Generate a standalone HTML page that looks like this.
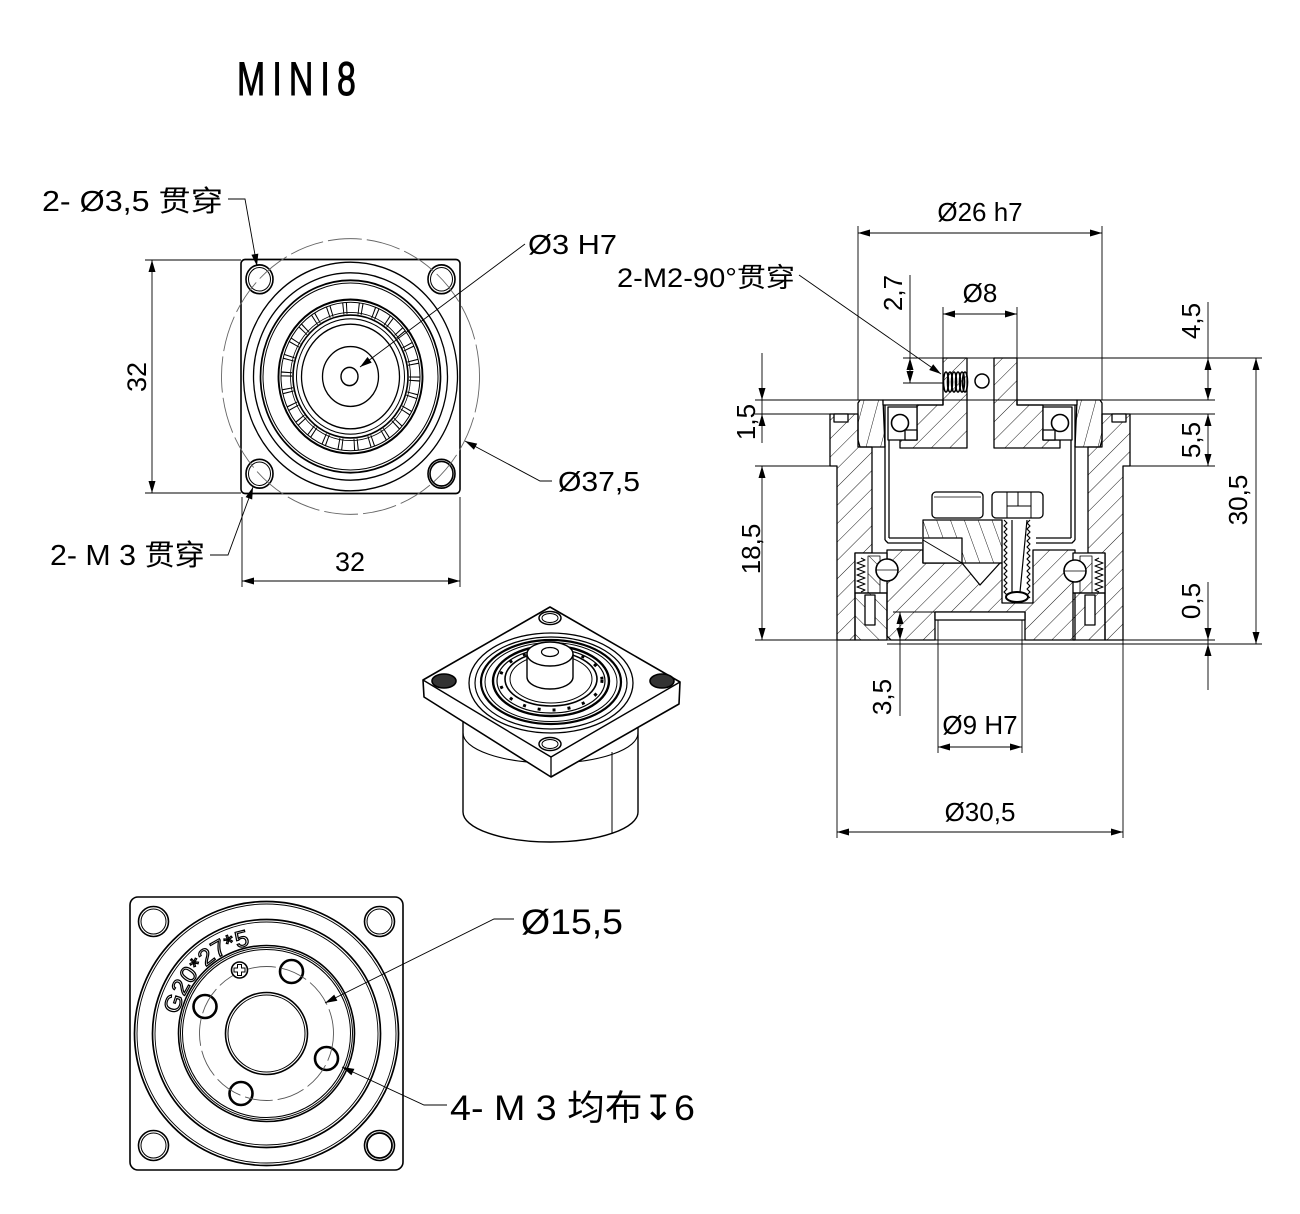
<!DOCTYPE html>
<html><head><meta charset="utf-8">
<style>
html,body{margin:0;padding:0;background:#fff;}
svg{display:block;}
text{font-family:"Liberation Sans","Noto Sans CJK SC","DejaVu Sans",sans-serif;fill:#000;}
</style></head><body>
<svg width="1300" height="1214" viewBox="0 0 1300 1214" xmlns="http://www.w3.org/2000/svg">
<defs>
<pattern id="hA" width="13" height="13" patternUnits="userSpaceOnUse" patternTransform="rotate(45)"><line x1="0" y1="0" x2="0" y2="13" stroke="#000" stroke-width="0.9"/></pattern>
<pattern id="hB" width="13" height="13" patternUnits="userSpaceOnUse" patternTransform="rotate(-45)"><line x1="0" y1="0" x2="0" y2="13" stroke="#000" stroke-width="0.9"/></pattern>
<pattern id="hC" width="14" height="14" patternUnits="userSpaceOnUse" patternTransform="rotate(15)"><line x1="0" y1="0" x2="0" y2="14" stroke="#000" stroke-width="0.9"/></pattern>
<pattern id="hD" width="13" height="13" patternUnits="userSpaceOnUse" patternTransform="rotate(-20)"><line x1="0" y1="0" x2="0" y2="13" stroke="#000" stroke-width="0.9"/></pattern>
<path id="arcT" d="M178.5,1014.8 A90,90 0 0 1 263.4,943.6" fill="none"/>
</defs>
<rect width="1300" height="1214" fill="#fff"/>

<!-- Title -->
<text transform="translate(237,95) scale(0.72,1)" font-size="47" textLength="165" lengthAdjust="spacing" style="stroke:#000;stroke-width:1">MINI8</text>

<!-- ============ TOP-LEFT VIEW ============ -->
<g transform="translate(350.5,376.5) scale(1,1.0685)" fill="none" stroke="#000">
  <rect x="-109.5" y="-109.5" width="219" height="219" rx="4" stroke-width="1.6"/>
  <circle r="107" stroke-width="1.3"/>
  <circle r="97" stroke-width="1.3"/>
  <circle r="90" stroke-width="1.7"/>
  <circle r="87.5" stroke-width="1"/>
  <circle r="72" stroke-width="1.9"/>
  <circle r="69.5" stroke-width="1"/>
  <circle r="64" stroke-width="11" stroke-dasharray="1 2.4 1 11.06"/>
  <circle r="60" stroke-width="0.8"/>
  <circle r="57.5" stroke-width="1.6"/>
  <circle r="54" stroke-width="1"/>
  <circle r="49" stroke-width="1.3"/>
  <circle r="28" stroke-width="1.3"/>
  <circle cx="-1" cy="0" r="8.5" stroke-width="1.4"/>
  <g stroke-width="1.6">
    <circle cx="-91" cy="-91" r="13.5"/><circle cx="91" cy="-91" r="13.5"/>
    <circle cx="-91" cy="91" r="13.5"/><circle cx="91" cy="91" r="13.5"/>
  </g>
  <g stroke-width="1">
    <circle cx="-91" cy="-91" r="11"/><circle cx="91" cy="-91" r="11"/>
    <circle cx="-91" cy="91" r="11"/><circle cx="91" cy="91" r="11.5" stroke-width="1.6"/>
  </g>
  <circle r="129" stroke="#666" stroke-width="0.9" stroke-dasharray="34 5"/>
</g>

<!-- TL dims -->
<g stroke="#000" stroke-width="0.9" fill="none">
  <line x1="145" y1="260" x2="241" y2="260"/>
  <line x1="145" y1="493" x2="241" y2="493"/>
  <line x1="152" y1="260" x2="152" y2="493"/>
  <line x1="242" y1="497" x2="242" y2="587"/>
  <line x1="460" y1="497" x2="460" y2="587"/>
  <line x1="242" y1="581" x2="460" y2="581"/>
  <polyline points="228,199 245,199 257,266"/>
  <line x1="525" y1="244" x2="360" y2="367"/>
  <polyline points="552,481 540,481 465,441"/>
  <polyline points="210,555 228,555 253,487"/>
</g>
<g fill="#000">
  <polygon points="152,260 148.5,272 155.5,272"/>
  <polygon points="152,493 148.5,481 155.5,481"/>
  <polygon points="242,581 254,577.5 254,584.5"/>
  <polygon points="460,581 448,577.5 448,584.5"/>
  <polygon points="257,266 251.4,254.8 258.3,253.6"/>
  <polygon points="360,367 367.5,357 371.7,362.6"/>
  <polygon points="465,441 477.2,443.6 473.9,449.7"/>
  <polygon points="253,487 252.2,499.5 245.6,497.1"/>
</g>
<text x="42" y="211" font-size="29" textLength="181" lengthAdjust="spacingAndGlyphs">2- Ø3,5 贯穿</text>
<text x="528" y="254" font-size="28" textLength="89" lengthAdjust="spacingAndGlyphs">Ø3 H7</text>
<text x="558" y="491" font-size="28" textLength="82" lengthAdjust="spacingAndGlyphs">Ø37,5</text>
<text x="50" y="565" font-size="29" textLength="155" lengthAdjust="spacingAndGlyphs">2- M 3 贯穿</text>
<text x="350" y="571" font-size="27" text-anchor="middle">32</text>
<text transform="translate(146,377) rotate(-90)" font-size="27" text-anchor="middle">32</text>

<!-- ============ ISO VIEW ============ -->
<g stroke="#000" stroke-linejoin="round">
  <path d="M463,720 L463,812 A87.5,30 0 0 0 638,812 L638,720 Z" fill="#fff" stroke-width="1.4"/>
  <path d="M463,733 A87.5,30 0 0 0 638,733" fill="none" stroke-width="1.1"/>
  <line x1="612" y1="752" x2="612" y2="834" stroke-width="1"/>
  <path d="M423,680 L550,607 L680,682 L679,704 L551,777 L424,697 Z" fill="#fff" stroke-width="1.6"/>
  <polyline points="423,680 551,757 680,682" fill="none" stroke-width="1.4"/>
  <line x1="551" y1="757" x2="551" y2="777" stroke-width="1.3"/>
  <g fill="none">
    <ellipse cx="551" cy="683" rx="82" ry="50" stroke-width="1.3"/>
    <ellipse cx="551" cy="683" rx="76" ry="46" stroke-width="1.2"/>
    <ellipse cx="551" cy="682" rx="70" ry="42" stroke-width="2.2"/>
    <ellipse cx="551" cy="682" rx="66" ry="39.5" stroke-width="1"/>
    <ellipse cx="551" cy="681" rx="58" ry="35" stroke-width="2.4"/>
    <ellipse cx="551" cy="681" rx="54" ry="32" stroke-width="1.2"/>
    <ellipse cx="551" cy="680" rx="51" ry="30" stroke-width="3" stroke-dasharray="3 12"/>
    <ellipse cx="551" cy="679" rx="46" ry="27" stroke-width="1.6"/>
    <ellipse cx="551" cy="679" rx="41" ry="24" stroke-width="1"/>
  </g>
  <path d="M527,654 L527,677 A23,12 0 0 0 573,677 L573,654 Z" fill="#fff" stroke-width="1.4"/>
  <ellipse cx="550" cy="654" rx="23" ry="12" fill="#fff" stroke-width="1.4"/>
  <ellipse cx="550" cy="652" rx="8.5" ry="4.5" fill="#fff" stroke-width="1.2"/>
  <ellipse cx="550" cy="618" rx="11" ry="6.5" fill="#fff" stroke-width="1.5"/>
  <ellipse cx="550" cy="618" rx="8" ry="4.5" fill="none" stroke-width="1"/>
  <ellipse cx="550" cy="744" rx="11" ry="6.5" fill="#fff" stroke-width="1.5"/>
  <ellipse cx="550" cy="744" rx="8" ry="4.5" fill="none" stroke-width="1"/>
  <ellipse cx="444" cy="681" rx="12" ry="7" fill="#333" stroke-width="1.6"/>
  <ellipse cx="662" cy="681" rx="12" ry="7" fill="#333" stroke-width="1.6"/>
</g>

<!-- ============ BOTTOM VIEW ============ -->
<g transform="translate(266.5,1033.5)" fill="none" stroke="#000">
  <rect x="-136.5" y="-136.5" width="273" height="273" rx="8" stroke-width="1.6"/>
  <circle r="132" stroke-width="1.7"/>
  <circle r="129.5" stroke-width="0.9"/>
  <circle r="114" stroke-width="1.7"/>
  <circle r="111.5" stroke-width="0.9"/>
  <circle r="88" stroke-width="1.6"/>
  <circle r="86" stroke-width="1"/>
  <circle r="84" stroke-width="1"/>
  <circle r="41" stroke-width="1.6"/>
  <circle r="38.5" stroke-width="1"/>
  <g stroke-width="1.6">
    <circle cx="-113" cy="-112" r="15"/><circle cx="113" cy="-112" r="15"/>
    <circle cx="-113" cy="112" r="15"/><circle cx="113" cy="112" r="15"/>
  </g>
  <g stroke-width="1">
    <circle cx="-113" cy="-112" r="12.5"/><circle cx="113" cy="-112" r="12.5"/>
    <circle cx="-113" cy="112" r="12.5"/><circle cx="113" cy="112" r="12.5" stroke-width="1.8"/>
  </g>
  <g fill="#fff" stroke-width="2.6">
    <circle cx="25" cy="-62" r="11.5"/>
    <circle cx="-61.5" cy="-27" r="11.5"/>
    <circle cx="60" cy="25" r="11.5"/>
    <circle cx="-25.5" cy="60" r="11.5"/>
  </g>
  <circle r="67" stroke="#555" stroke-width="0.9" stroke-dasharray="28 5"/>
  <circle cx="-27" cy="-63.5" r="8" fill="#fff" stroke-width="1.6"/>
  <path d="M-29,-69 h4 v3.5 h3.5 v4 h-3.5 v3.5 h-4 v-3.5 h-3.5 v-4 h3.5 Z" stroke-width="1"/>
</g>
<text font-size="23" style="fill:none;stroke:#000;stroke-width:1.2"><textPath href="#arcT" textLength="106" lengthAdjust="spacingAndGlyphs">G20*27*5</textPath></text>

<g stroke="#000" stroke-width="0.9" fill="none">
  <polyline points="514,919 494,919 325,1003"/>
  <polyline points="447,1105 424,1105 342,1067"/>
</g>
<g fill="#000">
  <polygon points="325,1003 334.2,994.6 337.4,1000.8"/>
  <polygon points="342,1067 354.4,1068.9 351.4,1075.2"/>
</g>
<text x="521" y="934" font-size="35" textLength="102" lengthAdjust="spacingAndGlyphs">Ø15,5</text>
<text x="450" y="1120" font-size="35" textLength="245" lengthAdjust="spacingAndGlyphs">4- M 3 均布↧6</text>

<!-- ============ SECTION VIEW ============ -->
<g stroke="#000" stroke-width="1.3" stroke-linejoin="round">
  <path d="M830,414 L858,414 L858,447 L872,447 L872,553 L855,553 L855,640 L837,640 L837,466 L830,466 Z" fill="url(#hA)"/>
  <path d="M1130,414 L1102,414 L1102,447 L1088,447 L1088,553 L1105,553 L1105,640 L1123,640 L1123,466 L1130,466 Z" fill="url(#hA)"/>
  <rect x="834" y="414" width="14" height="8" fill="#fff"/>
  <rect x="1112" y="414" width="14" height="8" fill="#fff"/>
  <path d="M860,400 L883,400 L885,447 L860,447 L858,440 L858,403 Z" fill="url(#hC)"/>
  <path d="M1077,400 L1100,400 L1102,403 L1102,440 L1100,447 L1075,447 Z" fill="url(#hC)"/>
  <rect x="883" y="400" width="60" height="5" fill="#fff"/>
  <rect x="1017" y="400" width="60" height="5" fill="#fff"/>
  <path d="M943,358 L967,358 L967,448 L900,448 L900,440 L917,440 L917,405 L943,405 Z" fill="url(#hA)"/>
  <path d="M1017,358 L994,358 L994,448 L1060,448 L1060,440 L1043,440 L1043,405 L1017,405 Z" fill="url(#hA)"/>
  <rect x="888" y="407" width="29" height="33" fill="#fff"/>
  <circle cx="900" cy="423" r="8.5" fill="#fff" stroke-width="1.6"/>
  <rect x="905" y="430" width="12" height="10" fill="#fff"/>
  <rect x="1043" y="407" width="29" height="33" fill="#fff"/>
  <circle cx="1060" cy="423" r="8.5" fill="#fff" stroke-width="1.6"/>
  <rect x="1043" y="430" width="12" height="10" fill="#fff"/>
  <g fill="none">
    <line x1="885" y1="405" x2="885" y2="540"/>
    <line x1="889" y1="440" x2="889" y2="538"/>
    <path d="M885,540 L888,543 L922,543"/>
    <line x1="889" y1="538" x2="922" y2="538"/>
    <line x1="1075" y1="405" x2="1075" y2="540"/>
    <line x1="1071" y1="440" x2="1071" y2="538"/>
    <path d="M1075,540 L1072,543 L1036,543"/>
    <line x1="1071" y1="538" x2="1036" y2="538"/>
  </g>
  <g fill="none" stroke-width="1.6">
    <ellipse cx="946" cy="382" rx="2.5" ry="10"/>
    <ellipse cx="950" cy="382" rx="2.5" ry="10"/>
    <ellipse cx="954" cy="382" rx="2.5" ry="10"/>
    <ellipse cx="958" cy="382" rx="2.5" ry="10"/>
    <ellipse cx="962" cy="382" rx="2.5" ry="10"/>
    <ellipse cx="965" cy="382" rx="2.5" ry="10"/>
  </g>
  <circle cx="982" cy="381" r="7" fill="#fff" stroke-width="1.5"/>
  <path d="M887,550 L923,550 L923,563 L962,563 L980,585 L1000,563 L1002,563 L1002,603 L1033,603 L1033,550 L1075,550 L1075,640 L1025,640 L1025,612 L935,612 L935,640 L891,640 L887,636 Z" fill="url(#hA)"/>
  <rect x="935" y="612" width="90" height="8" fill="#fff"/>
  <rect x="923" y="520" width="79" height="43" fill="url(#hD)"/>
  <rect x="923" y="538" width="39" height="25" fill="#fff"/>
  <line x1="923" y1="540" x2="962" y2="563" stroke-width="1"/>
  <rect x="932" y="492" width="51" height="26" rx="4" fill="#fff"/>
  <line x1="934" y1="497" x2="981" y2="497" stroke-width="0.8"/>
  <rect x="992" y="492" width="51" height="26" rx="4" fill="#fff"/>
  <g fill="none" stroke-width="1">
    <line x1="1007" y1="492" x2="1007" y2="518"/>
    <line x1="1031" y1="492" x2="1031" y2="518"/>
    <line x1="1018" y1="492" x2="1018" y2="506"/>
    <line x1="1007" y1="506" x2="1031" y2="506"/>
  </g>
  <rect x="1003" y="520" width="28" height="78" fill="#fff" stroke="none"/>
  <g fill="none" stroke-width="1.2">
    <path d="M1004,520 l3,3 l-3,3 l3,3 l-3,3 l3,3 l-3,3 l3,3 l-3,3 l3,3 l-3,3 l3,3 l-3,3 l3,3 l-3,3 l3,3 l-3,3 l3,3 l-3,3 l3,3 l-3,3 l3,3 l-3,3 l3,3 l-3,3 l3,3"/>
    <path d="M1030,520 l-3,3 l3,3 l-3,3 l3,3 l-3,3 l3,3 l-3,3 l3,3 l-3,3 l3,3 l-3,3 l3,3 l-3,3 l3,3 l-3,3 l3,3 l-3,3 l3,3 l-3,3 l3,3 l-3,3 l3,3 l-3,3 l3,3 l-3,3 l3,3"/>
    <line x1="1012" y1="520" x2="1012" y2="592"/>
    <line x1="1027" y1="520" x2="1020" y2="592"/>
  </g>
  <ellipse cx="1017" cy="597" rx="11" ry="5" fill="#fff" stroke-width="2"/>
  <rect x="855" y="553" width="32" height="40" fill="#fff"/>
  <rect x="868" y="556" width="12" height="37" fill="url(#hB)" stroke-width="0.8"/>
  <rect x="1073" y="553" width="32" height="40" fill="#fff"/>
  <rect x="1080" y="556" width="12" height="37" fill="url(#hA)" stroke-width="0.8"/>
  <g fill="none" stroke-width="1.1">
    <path d="M861,558 l4,2 l-8,3 l8,3 l-8,3 l8,3 l-8,3 l8,3 l-8,3 l8,3 l-8,3 l8,3 l-4,2"/>
    <path d="M1099,558 l-4,2 l8,3 l-8,3 l8,3 l-8,3 l8,3 l-8,3 l8,3 l-8,3 l8,3 l-8,3 l4,2"/>
  </g>
  <circle cx="887" cy="570" r="11" fill="#fff" stroke-width="1.6"/>
  <line x1="876" y1="570" x2="898" y2="570" stroke-width="0.8"/>
  <circle cx="1075" cy="571" r="11" fill="#fff" stroke-width="1.6"/>
  <line x1="1064" y1="571" x2="1086" y2="571" stroke-width="0.8"/>
  <rect x="855" y="593" width="32" height="47" fill="url(#hB)"/>
  <rect x="865" y="595" width="10" height="30" fill="#fff"/>
  <rect x="1073" y="593" width="32" height="47" fill="url(#hA)"/>
  <rect x="1085" y="595" width="10" height="30" fill="#fff"/>
</g>

<g stroke="#000" stroke-width="0.9" fill="none">
  <line x1="858" y1="226" x2="858" y2="400"/>
  <line x1="1102" y1="226" x2="1102" y2="400"/>
  <line x1="858" y1="233" x2="1102" y2="233"/>
  <line x1="943" y1="307" x2="943" y2="358"/>
  <line x1="1017" y1="307" x2="1017" y2="358"/>
  <line x1="943" y1="314" x2="1017" y2="314"/>
  <line x1="903" y1="358" x2="1262" y2="358"/>
  <line x1="903" y1="383" x2="943" y2="383"/>
  <line x1="910" y1="275" x2="910" y2="383"/>
  <line x1="755" y1="400" x2="1215" y2="400"/>
  <line x1="755" y1="414" x2="830" y2="414"/>
  <line x1="1130" y1="414" x2="1215" y2="414"/>
  <line x1="755" y1="466" x2="837" y2="466"/>
  <line x1="1123" y1="466" x2="1215" y2="466"/>
  <line x1="755" y1="640" x2="1215" y2="640"/>
  <line x1="887" y1="644" x2="1262" y2="644"/>
  <line x1="1208" y1="302" x2="1208" y2="400"/>
  <line x1="1208" y1="414" x2="1208" y2="466"/>
  <line x1="1208" y1="582" x2="1208" y2="690"/>
  <line x1="1256" y1="358" x2="1256" y2="644"/>
  <line x1="762" y1="353" x2="762" y2="443"/>
  <line x1="762" y1="466" x2="762" y2="640"/>
  <line x1="893" y1="612" x2="935" y2="612"/>
  <line x1="900" y1="612" x2="900" y2="716"/>
  <line x1="938" y1="620" x2="938" y2="753"/>
  <line x1="1022" y1="620" x2="1022" y2="753"/>
  <line x1="938" y1="747" x2="1022" y2="747"/>
  <line x1="837" y1="640" x2="837" y2="838"/>
  <line x1="1123" y1="640" x2="1123" y2="838"/>
  <line x1="837" y1="832" x2="1123" y2="832"/>
  <line x1="799" y1="275" x2="941" y2="374"/>
</g>
<g fill="#000">
  <polygon points="858,233 870,229.5 870,236.5"/>
  <polygon points="1102,233 1090,229.5 1090,236.5"/>
  <polygon points="943,314 955,310.5 955,317.5"/>
  <polygon points="1017,314 1005,310.5 1005,317.5"/>
  <polygon points="910,358 906.5,370 913.5,370"/>
  <polygon points="910,383 906.5,371 913.5,371"/>
  <polygon points="1208,358 1204.5,370 1211.5,370"/>
  <polygon points="1208,400 1204.5,388 1211.5,388"/>
  <polygon points="1208,414 1204.5,426 1211.5,426"/>
  <polygon points="1208,466 1204.5,454 1211.5,454"/>
  <polygon points="1256,358 1252.5,370 1259.5,370"/>
  <polygon points="1256,644 1252.5,632 1259.5,632"/>
  <polygon points="1208,640 1204.5,628 1211.5,628"/>
  <polygon points="1208,644 1204.5,656 1211.5,656"/>
  <polygon points="762,400 758.5,388 765.5,388"/>
  <polygon points="762,414 758.5,426 765.5,426"/>
  <polygon points="762,466 758.5,478 765.5,478"/>
  <polygon points="762,640 758.5,628 765.5,628"/>
  <polygon points="900,612 896.5,624 903.5,624"/>
  <polygon points="900,640 896.5,628 903.5,628"/>
  <polygon points="938,747 950,743.5 950,750.5"/>
  <polygon points="1022,747 1010,743.5 1010,750.5"/>
  <polygon points="837,832 849,828.5 849,835.5"/>
  <polygon points="1123,832 1111,828.5 1111,835.5"/>
  <polygon points="941,374 929.2,370 933.2,364.2"/>
</g>

<text x="980" y="221" font-size="26" text-anchor="middle">Ø26 h7</text>
<text x="980" y="302" font-size="26" text-anchor="middle">Ø8</text>
<text x="617" y="287" font-size="27" textLength="178" lengthAdjust="spacingAndGlyphs">2-M2-90°贯穿</text>
<text x="980" y="734" font-size="26" text-anchor="middle">Ø9 H7</text>
<text x="980" y="821" font-size="26" text-anchor="middle">Ø30,5</text>
<g font-size="26" text-anchor="middle">
  <text transform="translate(902,293) rotate(-90)">2,7</text>
  <text transform="translate(1200,321) rotate(-90)">4,5</text>
  <text transform="translate(1200,440) rotate(-90)">5,5</text>
  <text transform="translate(1247,500) rotate(-90)">30,5</text>
  <text transform="translate(1200,601) rotate(-90)">0,5</text>
  <text transform="translate(755,422) rotate(-90)">1,5</text>
  <text transform="translate(760,549) rotate(-90)">18,5</text>
  <text transform="translate(891,697) rotate(-90)">3,5</text>
</g>
</svg>
</body></html>
